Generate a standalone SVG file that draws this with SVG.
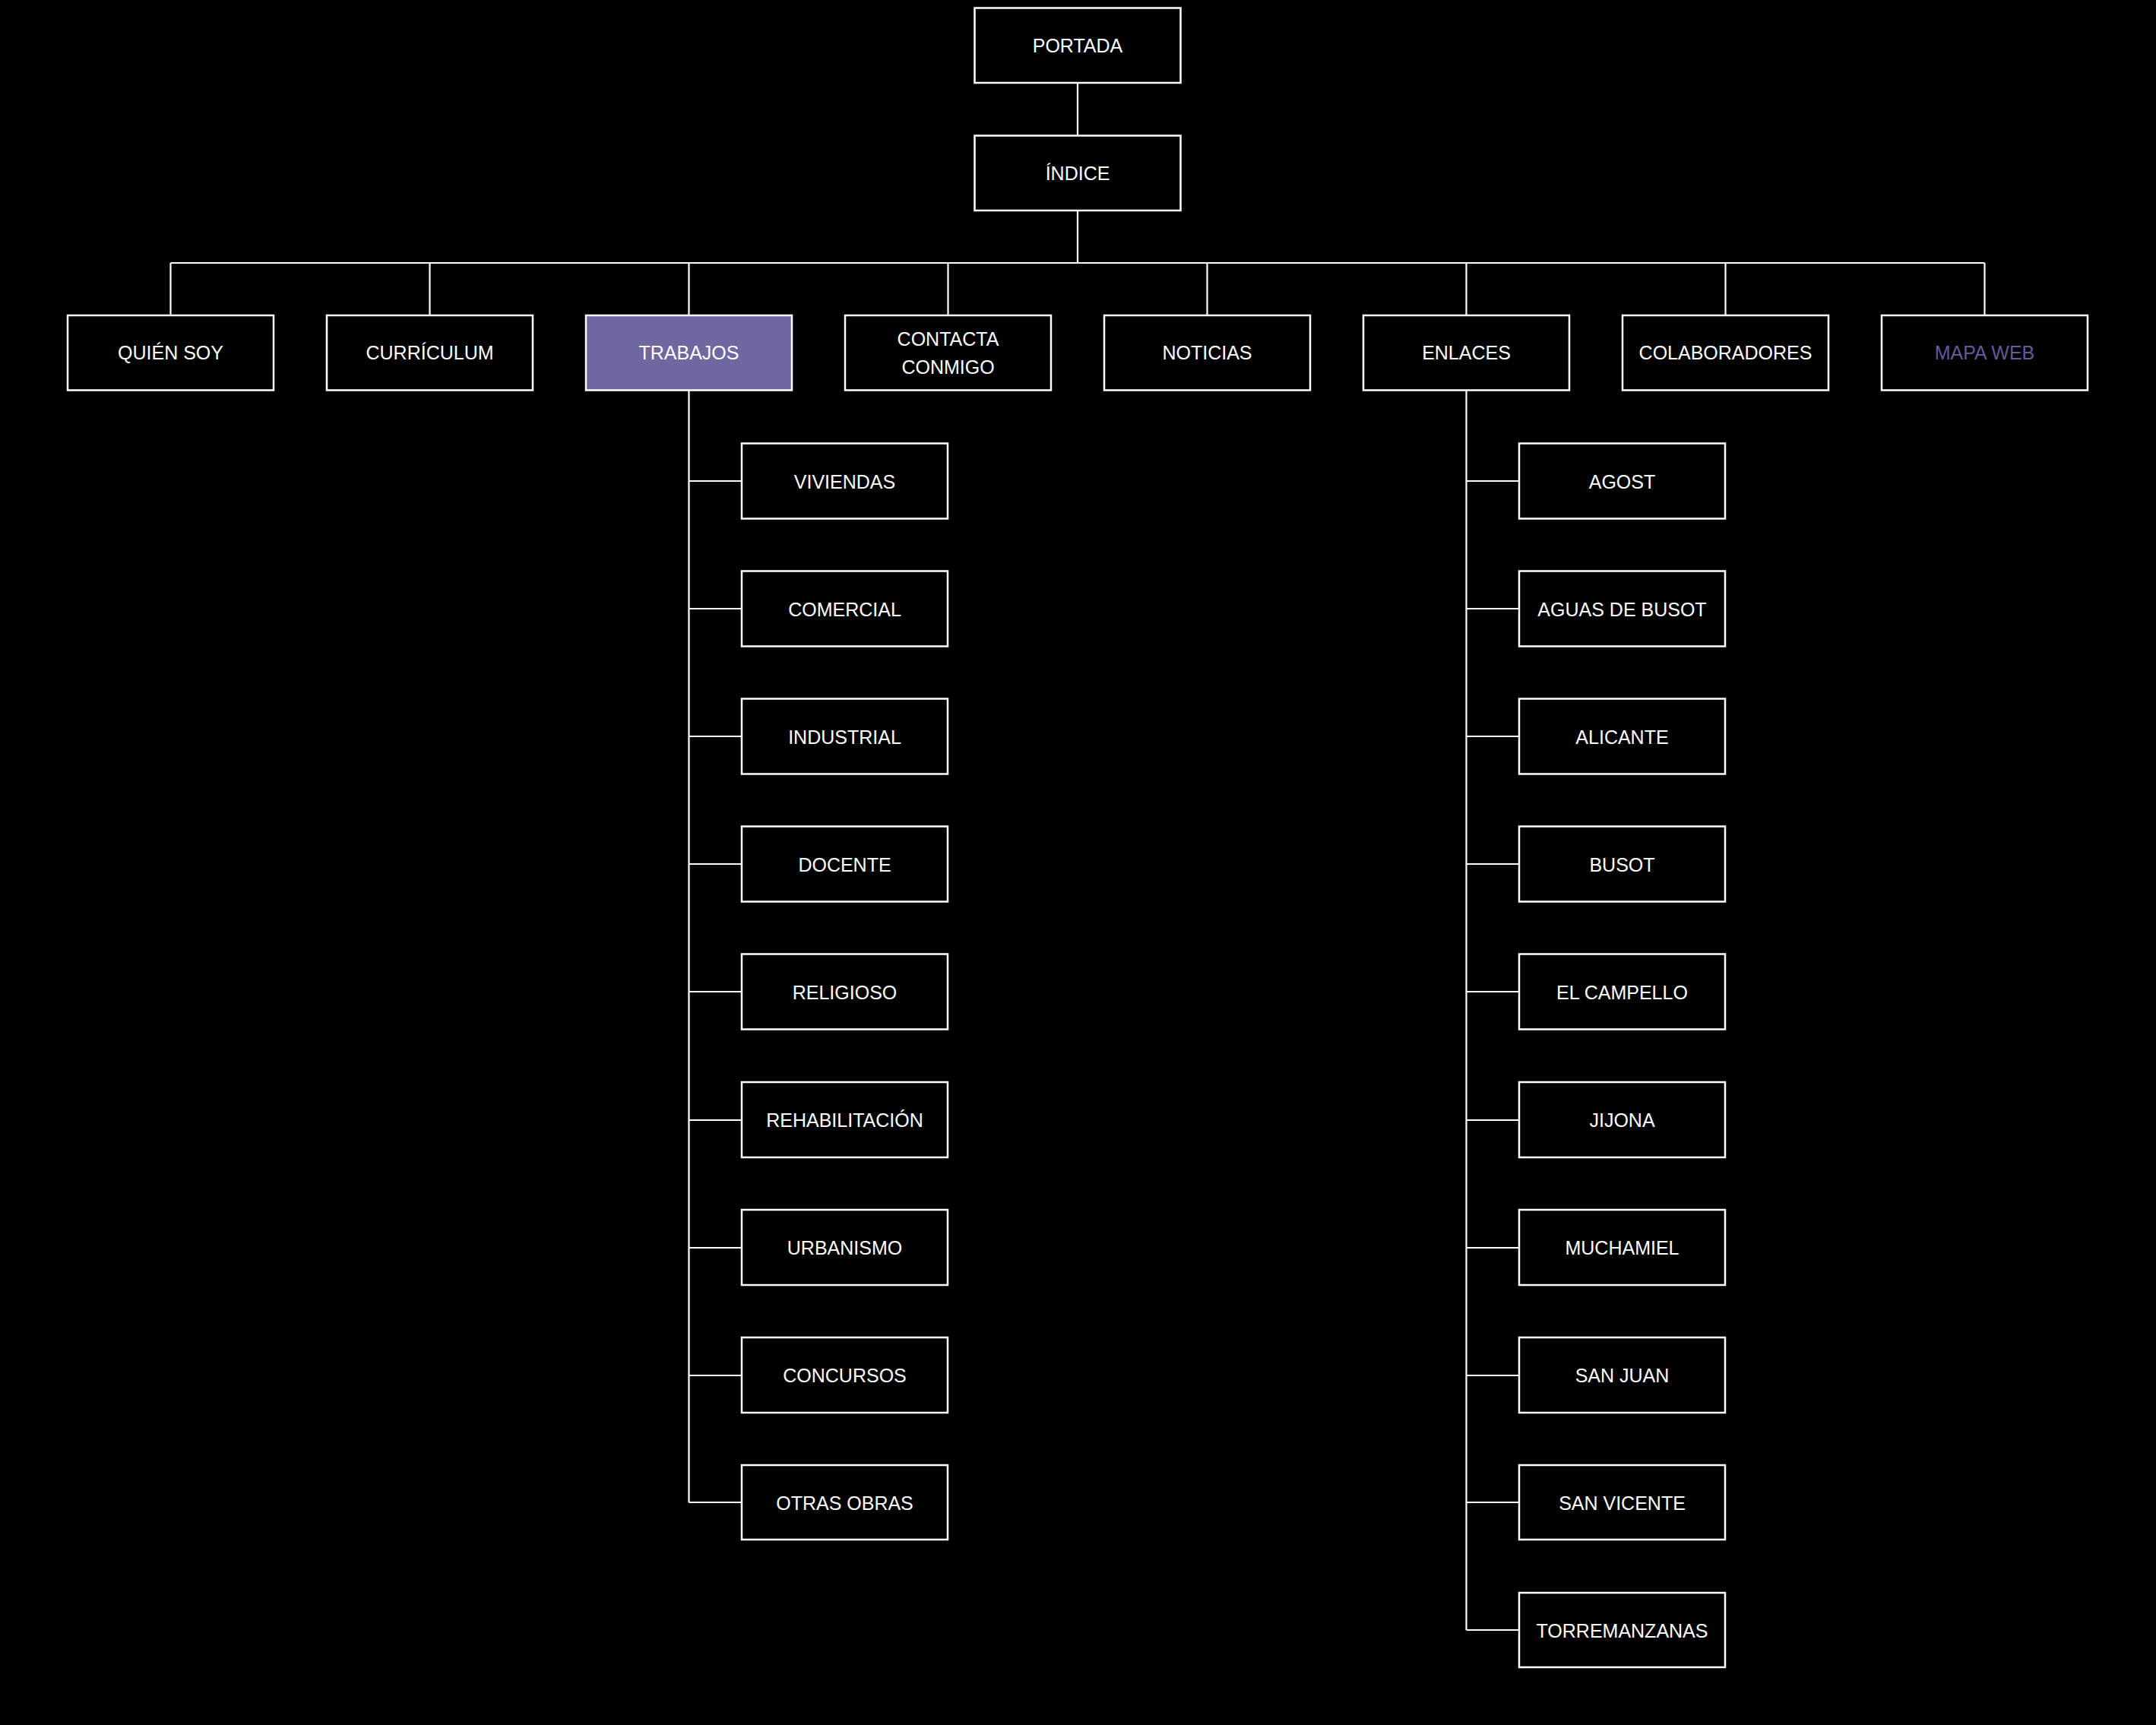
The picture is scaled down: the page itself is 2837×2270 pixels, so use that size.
<svg xmlns="http://www.w3.org/2000/svg" width="2837" height="2270" viewBox="0 0 2837 2270">
<style>
.box{fill:#000;stroke:#fff;stroke-width:2.5}
.hl{fill:#6E67A0}
.lbl{font-family:"Liberation Sans",Arial,sans-serif;font-size:25px;fill:#fff;text-anchor:middle}
.mw{fill:#625C98}
.cn{fill:none;stroke:#fff;stroke-width:2.2}
</style>
<rect x="0" y="0" width="2837" height="2270" fill="#000"/>
<g id="connectors" class="cn">
<path d="M1418 109V178M1418 277V346M224.5 346H2611.5"/>
<path d="M224.5 346V415M565.5 346V415M906.5 346V415M1247.5 346V415M1588.5 346V415M1929.5 346V415M2270.5 346V415M2611.5 346V415"/>
<path d="M906.5 514V1977M906.5 633H976M906.5 801H976M906.5 969H976M906.5 1137H976M906.5 1305H976M906.5 1474H976M906.5 1642H976M906.5 1810H976M906.5 1977H976"/>
<path d="M1929.5 514V2145M1929.5 633H1999M1929.5 801H1999M1929.5 969H1999M1929.5 1137H1999M1929.5 1305H1999M1929.5 1474H1999M1929.5 1642H1999M1929.5 1810H1999M1929.5 1977H1999M1929.5 2145H1999"/>
</g>
<g id="portada"><rect class="box" x="1282.5" y="10.5" width="271" height="98.5"/><text class="lbl" x="1418" y="69">PORTADA</text></g>
<g id="indice"><rect class="box" x="1282.5" y="178.5" width="271" height="98.5"/><text class="lbl" x="1418" y="237">ÍNDICE</text></g>
<g id="quien-soy"><rect class="box" x="89" y="415" width="271" height="98.5"/><text class="lbl" x="224.5" y="473">QUIÉN SOY</text></g>
<g id="curriculum"><rect class="box" x="430" y="415" width="271" height="98.5"/><text class="lbl" x="565.5" y="473">CURRÍCULUM</text></g>
<g id="trabajos"><rect class="box hl" x="771" y="415" width="271" height="98.5"/><text class="lbl" x="906.5" y="473">TRABAJOS</text></g>
<g id="contacta"><rect class="box" x="1112" y="415" width="271" height="98.5"/><text class="lbl" x="1247.5" y="455">CONTACTA</text><text class="lbl" x="1247.5" y="492">CONMIGO</text></g>
<g id="noticias"><rect class="box" x="1453" y="415" width="271" height="98.5"/><text class="lbl" x="1588.5" y="473">NOTICIAS</text></g>
<g id="enlaces"><rect class="box" x="1794" y="415" width="271" height="98.5"/><text class="lbl" x="1929.5" y="473">ENLACES</text></g>
<g id="colaboradores"><rect class="box" x="2135" y="415" width="271" height="98.5"/><text class="lbl" x="2270.5" y="473">COLABORADORES</text></g>
<g id="mapa-web"><rect class="box" x="2476" y="415" width="271" height="98.5"/><text class="lbl mw" x="2611.5" y="473">MAPA WEB</text></g>
<g id="viviendas"><rect class="box" x="976" y="583.5" width="271" height="99"/><text class="lbl" x="1111.5" y="642.5">VIVIENDAS</text></g>
<g id="comercial"><rect class="box" x="976" y="751.5" width="271" height="99"/><text class="lbl" x="1111.5" y="810.5">COMERCIAL</text></g>
<g id="industrial"><rect class="box" x="976" y="919.5" width="271" height="99"/><text class="lbl" x="1111.5" y="978.5">INDUSTRIAL</text></g>
<g id="docente"><rect class="box" x="976" y="1087.5" width="271" height="99"/><text class="lbl" x="1111.5" y="1146.5">DOCENTE</text></g>
<g id="religioso"><rect class="box" x="976" y="1255.5" width="271" height="99"/><text class="lbl" x="1111.5" y="1314.5">RELIGIOSO</text></g>
<g id="rehabilitacion"><rect class="box" x="976" y="1424" width="271" height="99"/><text class="lbl" x="1111.5" y="1483">REHABILITACIÓN</text></g>
<g id="urbanismo"><rect class="box" x="976" y="1592" width="271" height="99"/><text class="lbl" x="1111.5" y="1651">URBANISMO</text></g>
<g id="concursos"><rect class="box" x="976" y="1760" width="271" height="99"/><text class="lbl" x="1111.5" y="1819">CONCURSOS</text></g>
<g id="otras-obras"><rect class="box" x="976" y="1928" width="271" height="98"/><text class="lbl" x="1111.5" y="1986.5">OTRAS OBRAS</text></g>
<g id="agost"><rect class="box" x="1999" y="583.5" width="271" height="99"/><text class="lbl" x="2134.5" y="642.5">AGOST</text></g>
<g id="aguas-de-busot"><rect class="box" x="1999" y="751.5" width="271" height="99"/><text class="lbl" x="2134.5" y="810.5">AGUAS DE BUSOT</text></g>
<g id="alicante"><rect class="box" x="1999" y="919.5" width="271" height="99"/><text class="lbl" x="2134.5" y="978.5">ALICANTE</text></g>
<g id="busot"><rect class="box" x="1999" y="1087.5" width="271" height="99"/><text class="lbl" x="2134.5" y="1146.5">BUSOT</text></g>
<g id="el-campello"><rect class="box" x="1999" y="1255.5" width="271" height="99"/><text class="lbl" x="2134.5" y="1314.5">EL CAMPELLO</text></g>
<g id="jijona"><rect class="box" x="1999" y="1424" width="271" height="99"/><text class="lbl" x="2134.5" y="1483">JIJONA</text></g>
<g id="muchamiel"><rect class="box" x="1999" y="1592" width="271" height="99"/><text class="lbl" x="2134.5" y="1651">MUCHAMIEL</text></g>
<g id="san-juan"><rect class="box" x="1999" y="1760" width="271" height="99"/><text class="lbl" x="2134.5" y="1819">SAN JUAN</text></g>
<g id="san-vicente"><rect class="box" x="1999" y="1928" width="271" height="98"/><text class="lbl" x="2134.5" y="1986.5">SAN VICENTE</text></g>
<g id="torremanzanas"><rect class="box" x="1999" y="2096" width="271" height="98"/><text class="lbl" x="2134.5" y="2154.5">TORREMANZANAS</text></g>
</svg>
